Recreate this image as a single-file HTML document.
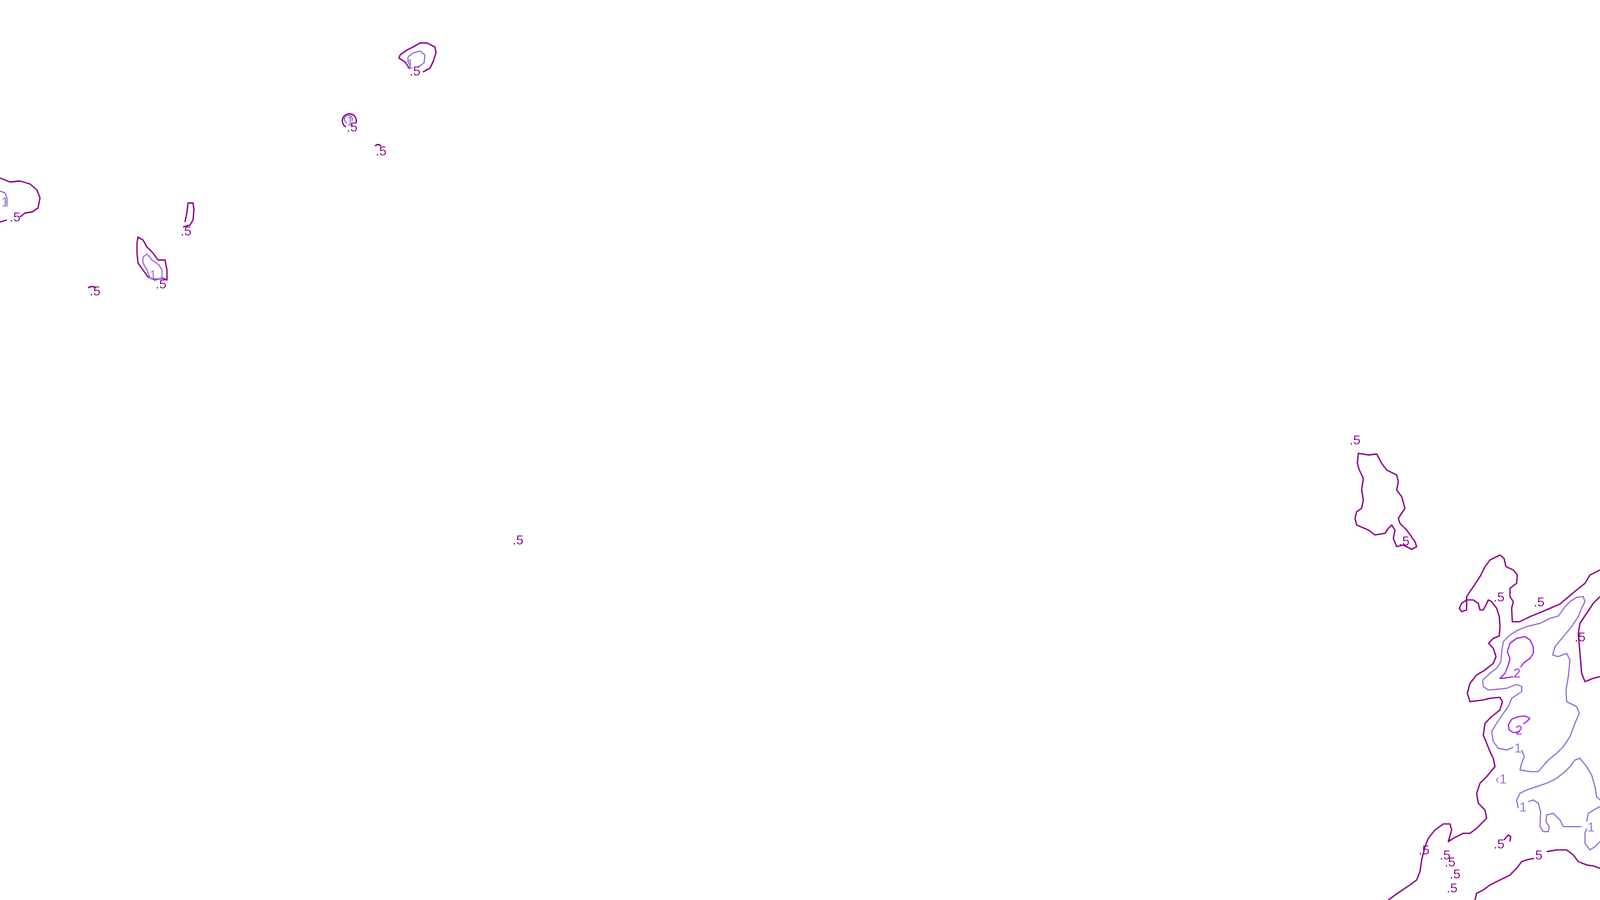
<!DOCTYPE html>
<html><head><meta charset="utf-8"><style>
html,body{margin:0;padding:0;background:#fff;width:1600px;height:900px;overflow:hidden}
svg{display:block}
text{font-family:"Liberation Sans",sans-serif;font-size:13px}
path{vector-effect:non-scaling-stroke}
.a{fill:none;stroke:#8a008a;stroke-width:1.4;stroke-linejoin:round}
.b{fill:none;stroke:#9370db;stroke-width:1.3;stroke-linejoin:round}
.c{fill:none;stroke:#a020f0;stroke-width:1.3;stroke-linejoin:round}
.ta{fill:#8a008a}.tb{fill:#9370db}.tc{fill:#a020f0}
</style></head><body>
<svg width="1600" height="900" viewBox="0 0 1600 900" xmlns="http://www.w3.org/2000/svg">
<g transform="translate(1300,420) scale(0.3333)">
<path class="a" d="M175,100 L205,105 L230,102 L245,130 L260,150 L290,165 L295,185 L290,210 L305,230 L315,265 L295,295 L300,310 L320,330 L345,365 L350,380 L335,388 L310,375 L290,380 L280,355 L285,330 L275,315 L265,325 L255,340 L225,345 L205,330 L170,315 L165,295 L170,275 L185,265 L190,240 L185,210 L190,175 L178,150 L172,130 Z"/>
<path class="a" d="M265,1440 L300,1415 L330,1395 L350,1380 L360,1355 L365,1320 L375,1280 L385,1255 L405,1230 L430,1212 L450,1212 L455,1230 L445,1265 L460,1255 L490,1240 L510,1240 L530,1225 L550,1205 L560,1195 L555,1170 L535,1150 L530,1120 L540,1090 L560,1070 L585,1040 L580,1015 L570,995 L560,970 L550,945 L555,910 L575,890 L600,870 L607,845 L600,832 L570,835 L550,840 L510,845 L502,820 L510,790 L530,765 L555,750 L580,730 L588,710 L580,685 L566,670 L580,655 L598,648 L600,620 L598,590 L590,565 L575,545 L565,540 L558,555 L550,570 L540,570 L535,550 L520,540 L500,540 L485,550 L478,565 L485,575 L500,570 L500,530 L520,500 L540,470 L555,440 L570,420 L600,405 L612,415 L618,440 L640,450 L652,465 L650,490 L630,505 L630,530 L640,545 L635,565 L637,605 L660,605 L690,590 L720,578 L750,565 L780,552 L800,535 L830,510 L855,490 L870,465 L900,450"/>
<path class="a" d="M900,530 L880,550 L860,580 L840,610 L835,640 L840,700 L845,760 L855,785 L880,775 L900,770"/>
<path class="a" d="M525,1440 L530,1420 L550,1410 L570,1395 L600,1380 L630,1365 L650,1345 L665,1325 L680,1320 L700,1315 M740,1295 L770,1290 L800,1290 L820,1305 L835,1325 L860,1335 L880,1338 L900,1345"/>
<path class="a" d="M612,1260 L625,1245 L632,1250 L630,1265"/>
<path class="b" d="M640,982 L620,990 L595,985 L580,965 L575,935 L590,910 L610,880 L625,860 L635,835 L650,825 L665,815 L665,800 L650,793 L620,805 L590,808 L565,810 L550,800 L548,780 L570,760 L590,745 L603,725 L605,695 L610,665 L630,645 L655,630 L680,620 L720,610 L750,595 L775,588 L785,575 L795,560 L810,545 L830,532 L850,530 L855,545 L845,565 L835,590 L815,620 L790,650 L765,680 L758,705 L775,710 L800,700 L810,720 L805,770 L798,810 L800,845 L830,860 L838,880 L825,910 L810,950 L790,980 L770,1000 L745,1020 L715,1055 L690,1055 L660,1050 L665,1030 L673,1010 L665,990"/>
<path class="b" d="M900,1140 L890,1130 L885,1100 L875,1065 L860,1040 L840,1015 L825,1020 L810,1040 L795,1055 L770,1075 L740,1090 L710,1100 L680,1110 L660,1120 L650,1140 L655,1165 M685,1145 L700,1140 L715,1150 L722,1175 L720,1220 L730,1235 L745,1235 L748,1220 L738,1205 L740,1185 L760,1180 L780,1200 L790,1220 L845,1220 M860,1205 L865,1180 L890,1165 L900,1160 M860,1225 L855,1240 L855,1270 L870,1290 L885,1280 L900,1265"/>
<path class="c" d="M662,742 L670,730 L690,715 L700,700 L700,680 L690,660 L675,650 L650,655 L630,670 L622,695 L630,715 L625,735 L615,760 L600,775 L610,775 L640,770"/>
<path class="c" d="M690,895 L680,905 L670,912 M660,935 L640,938 L628,930 L625,915 L635,898 L655,890 L675,888 L690,895"/>
</g>
<g text-anchor="middle" dominant-baseline="central">
<text class="ta" x="1355" y="440">.5</text>
<text class="ta" x="1404" y="541">.5</text>
<text class="ta" x="1499" y="597">.5</text>
<text class="ta" x="1539" y="602">.5</text>
<text class="ta" x="1580" y="637">.5</text>
<text class="ta" x="1424" y="850">.5</text>
<text class="ta" x="1499" y="844">.5</text>
<text class="ta" x="1537" y="855">.5</text>
<text class="ta" x="1445" y="855">.5</text>
<text class="ta" x="1450" y="862">.5</text>
<text class="ta" x="1455" y="874">.5</text>
<text class="ta" x="1452" y="888">.5</text>
<text class="tc" x="1517" y="673">2</text>
<text class="tc" x="1519" y="730">2</text>
<text class="tb" x="1518" y="748">1</text>
<text class="tb" x="1501" y="779">‹1</text>
<text class="tb" x="1523" y="807">1</text>
<text class="tb" x="1591" y="827">1</text>
</g>
<path class="a" d="M400,55 L407,50 L413,47 L420,43 L427,43 L435,47 L436,53 L433,62 L430,68 L423,72 M410,69 L405,62 L399,58 L400,55"/>
<path class="b" d="M408,57 L413,53 L420,51 L425,55 L424,63 L418,67 M410,65 L408,62 L408,57"/>
<path class="a" d="M346,127 A7,7 0 1 1 356,123"/>
<path class="b" d="M347,123 A4,4 0 1 1 352,121"/>
<path class="a" d="M375,146 Q378,143 381,146"/>
<path class="a" d="M0,178 L10,182 L20,181 L30,184 L37,190 L40,198 L38,208 L32,212 L25,213 L20,217 M7,220 L0,222"/>
<path class="b" d="M0,191 L5,193 L7,198 L7,205"/>
<path class="a" d="M185,222 L187,212 L188,203 L193,203 L194,210 L193,220 L190,225 L183,227"/>
<path class="a" d="M138,237 L143,240 L147,247 L153,253 L158,260 L165,260 L167,270 L167,280 L162,278 L155,280 L148,277 L143,270 L138,263 L137,253 L137,243 Z"/>
<path class="b" d="M143,257 L147,254 L152,260 L159,265 L162,270 L162,278 L157,279 L150,278 L147,270 L143,263 Z"/>
<path class="a" d="M88,288 Q92,285 96,288"/>
<g text-anchor="middle" dominant-baseline="central">
<text class="tb" x="410" y="64">1</text>
<text class="ta" x="415" y="71">.5</text>
<text class="tb" x="350" y="121">1</text>
<text class="ta" x="352" y="127">.5</text>
<text class="ta" x="381" y="151">.5</text>
<text class="tb" x="5" y="202">1</text>
<text class="ta" x="15" y="217">.5</text>
<text class="ta" x="186" y="231">.5</text>
<text class="tb" x="153" y="275">1</text>
<text class="ta" x="161" y="284">.5</text>
<text class="ta" x="95" y="291">.5</text>
<text class="ta" x="518" y="540">.5</text>
</g>
</svg>
</body></html>
